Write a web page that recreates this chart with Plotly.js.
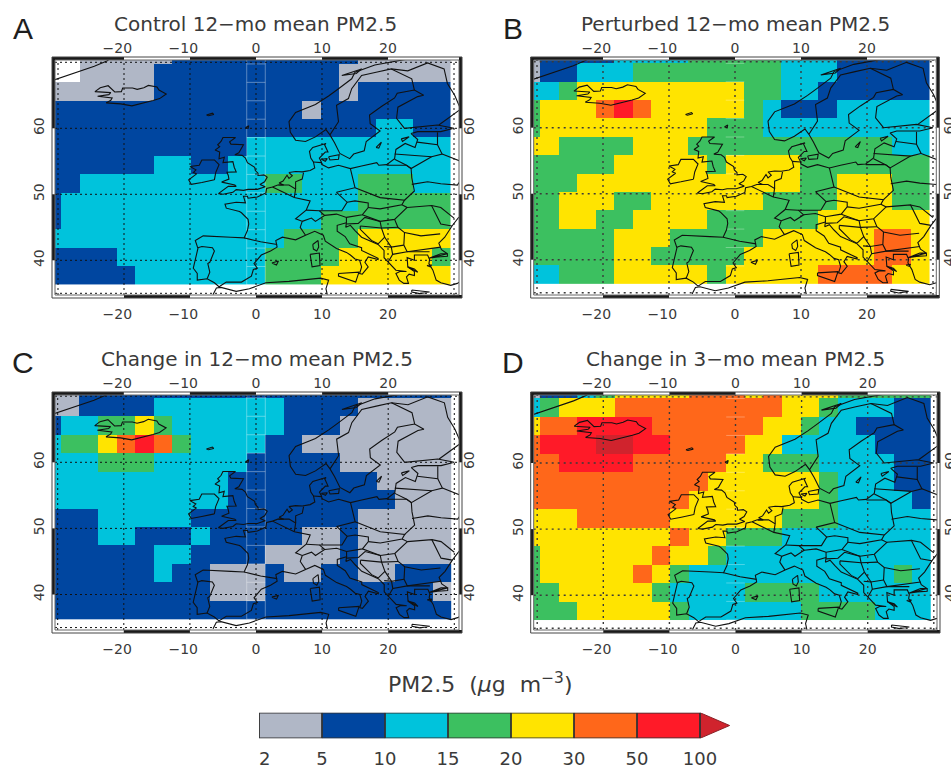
<!DOCTYPE html>
<html><head><meta charset="utf-8">
<script src="https://cdn.plot.ly/plotly-3.0.1.min.js"></script>
<style>html,body{margin:0;padding:0;background:#fff;overflow:hidden}</style>
</head><body><div id="chart" style="width:951px;height:768px"></div>
<script>
// PM2.5 colour band of each model grid cell, top row first
// 0: 2-5, 1: 5-10, 2: 10-15, 3: 15-20, 4: 20-30, 5: 30-50, 6: 50-100, 7: >100
const n = null;
const levelsA = [
[n,n,0,0,0,0,0,1,1,1,1,1,1,1,1,1,1,0,0,0,0,0],
[n,n,0,0,0,0,1,1,1,1,1,1,1,1,1,1,0,0,0,0,0,0],
[0,0,0,0,0,0,1,1,1,1,1,1,1,1,1,1,0,1,1,1,1,1],
[1,1,1,1,1,1,1,1,1,1,1,1,1,1,0,1,1,1,1,1,1,1],
[1,1,1,1,1,1,1,1,1,1,1,1,1,1,1,1,1,1,2,2,1,1],
[1,1,1,1,1,1,1,1,1,1,1,2,2,2,2,2,2,2,2,2,2,2],
[1,1,1,1,1,1,2,2,1,1,2,2,2,2,2,2,2,2,2,2,2,2],
[1,1,2,2,2,2,2,2,2,2,2,2,3,3,2,2,2,3,3,3,2,2],
[1,2,2,2,2,2,2,2,2,2,2,2,2,2,2,2,2,3,3,3,3,3],
[1,2,2,2,2,2,2,2,2,2,2,2,2,2,2,3,3,3,3,3,3,3],
[2,2,2,2,2,2,2,2,2,2,2,2,2,3,3,3,3,4,4,4,4,4],
[1,1,1,1,2,2,2,2,2,2,2,2,3,3,3,3,4,4,4,4,4,3],
[1,1,1,1,1,2,2,2,2,2,2,2,3,3,3,4,4,4,4,4,4,4]];
const levelsB = [
[0,1,1,1,1,2,2,2,2,3,3,3,3,3,2,2,2,1,1,1,1,1],
[0,1,1,2,2,2,3,3,3,3,3,3,3,3,2,2,2,1,1,1,1,1],
[2,2,3,4,4,4,4,4,4,4,4,4,3,3,2,2,1,1,1,1,1,1],
[3,4,4,4,5,6,5,4,4,4,4,4,3,2,1,1,1,2,2,2,2,2],
[3,4,4,4,4,4,4,4,4,4,3,3,3,2,2,2,2,2,2,2,2,2],
[4,4,3,3,3,3,4,4,4,3,3,3,3,3,3,3,3,3,3,3,2,2],
[3,3,3,3,3,4,4,4,4,4,3,4,4,4,4,3,3,3,3,3,3,3],
[3,3,3,4,4,4,4,4,4,4,4,4,4,4,4,3,3,4,4,4,3,3],
[3,3,4,4,4,3,3,4,4,4,4,4,4,3,3,3,3,4,4,4,3,3],
[3,3,4,4,3,3,4,4,4,4,3,3,3,3,3,3,4,4,4,4,4,4],
[3,3,3,3,3,4,4,4,3,3,3,3,3,4,4,4,4,4,4,5,5,4],
[3,3,3,3,3,4,4,3,3,3,3,3,4,4,4,4,4,4,4,5,5,4],
[2,2,3,3,3,4,4,4,4,4,3,4,4,4,4,4,5,5,5,5,4,4]];
const levelsC = [
[0,0,1,1,1,1,1,1,1,1,1,1,1,1,1,1,1,1,1,1,1,1],
[0,0,1,1,1,1,2,2,2,2,2,2,2,1,1,1,1,0,0,0,0,0],
[1,2,2,3,3,4,3,2,2,2,2,2,2,1,1,1,0,0,0,0,0,0],
[2,3,3,4,5,6,5,3,2,2,2,2,1,1,0,0,0,0,0,0,0,0],
[2,2,2,3,3,3,2,2,2,2,2,1,1,1,1,1,0,0,0,0,0,0],
[2,2,2,2,2,2,2,2,2,2,1,1,1,1,1,1,1,1,0,0,0,0],
[2,2,2,2,2,2,2,2,2,2,1,1,1,1,1,1,1,1,1,0,0,0],
[1,1,1,2,2,2,2,2,1,1,1,1,1,1,1,1,1,0,0,0,0,0],
[1,1,1,2,2,1,1,1,2,1,1,1,1,1,0,0,1,0,0,0,0,0],
[1,1,1,1,1,1,2,2,1,1,1,1,0,0,0,0,1,0,0,0,0,0],
[1,1,1,1,1,1,2,1,1,0,0,0,1,0,0,1,1,0,0,1,1,1],
[1,1,1,1,1,1,1,1,1,0,0,0,1,1,1,1,1,1,1,1,1,0],
[1,1,1,1,1,1,1,1,1,1,1,1,1,1,1,1,1,1,1,1,1,1]];
const levelsD = [
[0,1,1,2,3,4,4,4,4,5,5,5,4,5,4,4,4,3,3,3,3,3],
[2,3,4,4,4,5,5,5,5,5,5,5,5,5,4,4,3,2,2,2,1,1],
[4,5,5,6,6,6,6,5,5,5,5,5,5,4,4,3,2,2,1,1,1,1],
[5,6,6,6,7,7,6,6,5,5,5,5,4,4,2,2,2,2,2,1,1,1],
[5,5,6,6,6,6,5,5,5,5,5,4,4,3,3,3,2,2,2,2,1,1],
[5,5,5,5,5,5,5,5,5,5,4,4,4,4,4,4,3,2,2,2,1,1],
[5,5,5,5,5,5,5,5,5,4,4,4,4,4,4,4,3,2,2,2,2,1],
[4,4,4,5,5,5,5,5,4,4,4,4,4,4,3,3,3,2,2,2,2,2],
[4,4,4,4,4,4,4,4,5,4,4,3,3,3,2,2,2,2,2,2,2,2],
[3,4,4,4,4,4,4,5,4,4,3,2,2,2,2,2,2,2,2,2,2,2],
[3,4,4,4,4,4,5,4,3,2,2,2,2,2,2,2,2,2,2,2,3,2],
[3,3,4,4,4,4,4,3,2,2,2,2,3,3,3,3,2,2,2,2,2,2],
[3,3,3,4,4,4,4,4,3,2,2,2,2,2,2,3,3,3,3,2,2,2]];

const cellLons = [-30.94,-28.13,-25.31,-22.5,-19.69,-16.88,-14.06,-11.25,-8.44,-5.63,-2.81,0,2.81,5.63,8.44,11.25,14.06,16.88,19.69,22.5,25.31,28.13];
const cellLats = [71.16,68.37,65.58,62.79,60,57.21,54.42,51.63,48.84,46.04,43.25,40.46,37.67];
const gridLons = [-30,-20,-10,0,10,20,30];
const gridLats = [70,60,50,40,35];
const topTickText = ['\u221220\u00a0\u00a0\u00a0','\u221210\u00a0\u00a0\u00a0','0','10','20'];
const tickLons = [-20,-10,0,10,20];
const tickLats = [40,50,60];
const titles = ['Control\u00a012\u2212mo mean\u00a0PM2.5','Perturbed\u00a012\u2212mo mean\u00a0PM2.5','Change in\u00a012\u2212mo mean\u00a0PM2.5','Change in\u00a03\u2212mo mean\u00a0PM2.5'];
const panelLetters = ['A','B','C','D'];
const bandColours = ['#B0B7C6','#0046A0','#00C3DC','#3CC060','#FFE400','#FF671A','#FF1A28','#D0232D'];
const barLabels = ['\u00a0\u00a02','5','10','15','20','30','50','100'];

// Coastlines and borders, [lon, lat]
const greenland=[[-31,67.2],[-29,67.9],[-26.7,68.6],[-24.5,69.4],[-22.6,70.2],[-21.5,71]];
const iceland=[[-22.7,63.85],[-22,64.25],[-21.8,64.6],[-24,64.85],[-22.3,65.1],[-22,65.4],[-24.4,65.55],[-23.6,66.15],[-22.4,66.45],[-21.4,65.5],[-20.4,65.55],[-20.2,66.1],[-18.7,66.1],[-18,65.9],[-17,66.15],[-16.3,66.5],[-15,66.25],[-14.7,65.8],[-13.6,65.2],[-14.6,64.5],[-15.6,64.2],[-17,63.8],[-18.8,63.4],[-20.5,63.7],[-22.7,63.85]];
const faroe=[[-7.5,62],[-6.6,62.3],[-6.4,62.1],[-7.2,61.9],[-7.5,62]];
const shetland=[[-1.6,60.1],[-1.1,60.4],[-1.2,60],[-1.6,60.1]];
const britain=[[-5.7,50.1],[-5,50],[-3.5,50.3],[-3,50.7],[-1.9,50.6],[-1.2,50.75],[0.2,50.75],[1.4,51.15],[0.6,51.5],[1.3,51.9],[1.7,52.6],[1.2,52.95],[0.3,52.85],[0.3,53.2],[-0.1,53.6],[-0.2,54.1],[-1.3,54.8],[-1.6,55.5],[-2.1,55.9],[-3.2,56],[-2.6,56.3],[-2.1,57.1],[-1.9,57.5],[-3.8,57.6],[-4,57.95],[-3.1,58.6],[-5,58.6],[-5.3,58],[-5.8,57.5],[-5.5,57.2],[-6.2,56.7],[-5.5,56.4],[-5.6,55.4],[-4.8,55.6],[-5,54.8],[-3.5,54.95],[-3.3,54.1],[-3,53.4],[-4.4,53.35],[-4.2,52.85],[-4.1,52.3],[-5.2,51.85],[-3.2,51.4],[-3,51.2],[-4.2,51.2],[-5.7,50.1]];
const ireland=[[-6.3,52.2],[-6.1,53.3],[-5.6,54.5],[-6.3,55.2],[-8.2,55.2],[-8.6,54.4],[-10,54.2],[-9.1,53.7],[-9.5,53.3],[-9,53.1],[-10.2,52.2],[-9.8,51.5],[-8.2,51.8],[-6.3,52.2]];
const norwaySweden=[[25.8,71],[21,70.2],[18,69.6],[15,68.5],[14.5,67.5],[12.5,66],[11,64.9],[9,63.6],[6,62.4],[5,61],[5.2,59.4],[6,58.2],[7.5,58],[9,58.7],[10.6,59.8],[11.2,59],[11.9,57.8],[12.7,56.2],[14.2,55.4],[14.8,56.1],[16.4,56.6],[16.7,58],[18.8,59.6],[17.3,60.7],[17.2,62],[19,63.3],[21,64.6],[21.4,65.3],[24,65.8],[25.4,65],[24.5,64.8],[21.5,63.2],[21.3,61.5],[22.5,60],[25,60.2],[27.5,60.5],[30,60],[28,59.5],[24.5,59.5],[23.5,59.2],[24.5,58.3],[24.1,57.1],[22.6,57.7],[21.2,56.8],[21,55.4],[19.8,54.5],[18.6,54.4],[18.3,54.8],[16,54.3],[14.3,53.9],[12.5,54.4],[11,54],[10,54.5],[9.9,54.9],[9.6,55.5],[10.5,56.4],[10.9,56.4],[10.4,57.5],[10.6,57.7],[8.6,57.1],[8.1,56.5],[8.3,55.5],[8.7,54.9],[8.9,54],[8.2,53.6],[7,53.4],[6,53.45],[5,53.3],[5.5,52.8],[5,52.4],[4.7,52.9],[4.1,52],[3.5,51.7],[4.2,51.4],[3.3,51.4],[2.5,51.1],[1.6,50.9],[1.5,50.2],[0.2,49.6],[-1.2,49.4],[-1.3,49.7],[-1.9,49.7],[-1.6,48.7],[-3,48.8],[-4.7,48.5],[-4.5,47.9],[-2.5,47.4],[-2.2,47.2],[-1.2,46.2],[-1.1,45.5],[-1.3,44.5],[-1.8,43.4],[-3.8,43.5],[-8,43.7],[-9.2,43],[-8.8,41.8],[-9.5,38.8],[-8.9,38],[-8.9,37],[-7.4,37.2],[-6.3,36.6],[-5.6,36],[-4.5,36.7],[-2.2,36.7],[-0.7,37.6],[-0.4,38.6],[0.2,38.8],[-0.3,39.5],[0.8,40.8],[2.2,41.4],[3.2,42],[3,43],[4,43.5],[6,43.1],[7.5,43.8],[8.9,44.4],[10.2,43.8],[10.5,42.9],[12.2,41.8],[13.7,41.2],[14.3,40.8],[15,40.2],[15.7,40],[16,39],[15.7,38],[16.1,37.9],[17,39],[16.5,39.7],[17,40.5],[18.5,40.1],[18.5,40.3],[16,41.5],[16,41.9],[14.2,42.5],[13.5,43.6],[12.3,44.4],[12.3,45.3],[13.7,45.7],[13.6,45],[14.3,45.3],[15,44.5],[16,43.5],[18.5,42.4],[19.4,41.5],[19.4,40.4],[20.2,39.5],[21.2,38.5],[22.8,38.3],[21.8,38.3],[21.2,38],[21.7,37],[22.4,36.5],[23.1,36.5],[22.8,37.5],[23.2,37.9],[24,37.7],[24,38.3],[23,39],[22.9,40.4],[24,40],[24,40.8],[26,40.8],[26.3,40.1],[26.2,39.5],[26.8,38.5],[27.3,37],[28,36.6],[29.5,36.2],[30.5,36.5],[31,36.8]];
const marmaraBlackSea=[[26.2,40.3],[27.5,40.5],[29,40.6],[29,41],[28,41],[26.8,40.6],[26.2,40.3],[29,41],[28.1,41.6],[27.7,42.6],[28.6,43.5],[29.7,45.2],[30.7,46.5],[31,46.6]];
const northAfrica=[[-6.5,34.8],[-6,35.8],[-5.3,35.9],[-3,35.3],[-1,35.7],[1.5,36.6],[5,36.8],[9.8,37.3],[11,37],[10.6,35.7],[10.8,34.8]];
const sicily=[[12.5,38],[15.6,38.2],[15.1,36.7],[12.5,37.6],[12.5,38]];
const sardinia=[[8.2,40.9],[9.6,41.1],[9.7,39.2],[8.5,39],[8.2,40.9]];
const corsica=[[8.6,42.4],[9.4,43],[9.5,42],[9.2,41.4],[8.7,41.7],[8.6,42.4]];
const mallorca=[[2.4,39.6],[3.4,39.9],[3.1,39.3],[2.4,39.6]];
const crete=[[23.6,35.5],[25,35.4],[26.3,35.2],[24.8,34.95],[23.6,35.2],[23.6,35.5]];
const zealand=[[11,55.7],[12.6,56],[12.5,55.3],[11.2,55.2],[11,55.7]];
const funen=[[9.9,55.3],[10.8,55.4],[10.5,55],[9.9,55.3]];
const gotland=[[18.2,57.1],[19,57.9],[18.6,57],[18.2,57.1]];
const saaremaa=[[22,58.4],[23.2,58.7],[22.2,58],[22,58.4]];
const lofoten=[[13,68],[14.5,68.5],[16,69],[15.2,68.3],[13,68]];
const euboea=[[23,39],[24.5,38.2],[24,38.7],[23,39]];
const lesbos=[[25.9,39.2],[26.6,39.3],[26.4,39],[25.9,39.2]];
const borderSpainPortugal=[[-8.8,41.9],[-8.2,42.1],[-6.6,41.9],[-6.3,41.4],[-7,39.7],[-7.3,39.5],[-7,38.2],[-7.4,37.2]];
const borderPyrenees=[[-1.8,43.4],[0.7,42.8],[3.2,42.4]];
const borderFranceEast=[[2.5,51.1],[4.2,50.3],[5.8,49.5],[8.2,49],[7.6,47.6],[6,46.3],[7,45.9],[6.7,45],[7.5,43.8]];
const borderSwiss=[[7.6,47.6],[9.6,47.5],[10.4,46.8],[9,45.9],[8.4,46.4],[7,45.9]];
const borderBenelux=[[3.4,51.4],[5,51.4],[6,50.8],[5.8,49.5]];
const borderGermanyWest=[[6,50.8],[6,51.9],[7,52.3],[7.2,53.3]];
const borderDenmark=[[8.7,54.9],[9.9,54.8]];
const borderGermanyEast=[[14.3,53.9],[14.6,52.6],[15,51],[12.2,50.3],[13.8,48.8],[13,47.5],[9.6,47.5]];
const borderAustria=[[10.4,46.8],[12.2,47],[13.7,46.5],[16.1,46.9],[17,48],[17,48.7],[15,49],[13.8,48.8]];
const borderCzechPoland=[[15,51],[18.8,49.5],[22.5,49.1],[22.1,48.4],[18.8,47.8],[17,48]];
const borderHungary=[[16.1,46.9],[18.8,45.9],[21,46.2],[22.9,48],[22.1,48.4]];
const borderPolandEast=[[22.5,49.1],[24,50.5],[23.6,52.5],[23.5,53.9],[22.8,54.4],[19.8,54.4]];
const borderBaltics=[[21,56.1],[26.6,55.7],[28.2,56.1],[27.5,57.5],[24.4,57.9]];
const borderLithuania=[[21,55.3],[22.8,54.4],[23.5,53.9],[26.6,55.7]];
const borderEstoniaRussia=[[27.5,57.5],[27.5,59.4]];
const borderBelarus=[[23.6,51.5],[26,51.9],[28,51.6],[30.5,51.4],[31,52.1]];
const borderBelarusRussia=[[28.2,56.1],[31,55]];
const borderUkraine=[[22.9,48],[26.6,48.3],[28,45.5],[29.7,45.2]];
const borderMoldova=[[26.6,48.3],[28,48],[30,46.4]];
const borderRomania=[[21,46.2],[21.5,45],[22.5,44.2],[25,43.7],[27.9,44]];
const borderBulgaria=[[22.5,44.2],[22.4,42.3],[22.9,41.3],[26.3,41.7],[28,42]];
const borderGreece=[[20,39.7],[20.7,40.9],[22.9,41.3],[26.3,41.3]];
const borderAlbania=[[19.4,42.1],[20.5,42],[20.7,40.9]];
const borderBalkans=[[13.7,45.5],[15.5,45.6],[16.5,46.5],[18.8,45.9],[19,44.9],[19.5,43.5],[18.5,42.5]];
const borderBosnia=[[15.8,45.2],[19,44.9]];
const borderBosniaWest=[[15.8,45.2],[15.8,44.7],[17.5,43],[18.5,42.5]];
const borderSerbia=[[19,44.9],[21.5,45]];
const borderSerbiaSouth=[[19.5,43.5],[20.5,42],[22.4,42.3]];
const borderItalyNorth=[[13.7,46.5],[13.7,45.7]];
const borderScandinavia=[[11.2,59],[12.5,61],[12.2,63.5],[14,64.5],[14.5,66],[16,68],[18.2,68.5],[20.5,69],[23,68.7],[26,69.9],[28.5,69],[29,66.8],[30.1,65],[31,62.9]];
const borderFinlandSweden=[[24,65.8],[23.6,67.5],[20.5,69]];
const borderFinlandRussia=[[31,62.9],[27.7,60.5]];
const mapLines=[greenland,iceland,faroe,shetland,britain,ireland,norwaySweden,marmaraBlackSea,northAfrica,sicily,sardinia,corsica,mallorca,crete,zealand,funen,gotland,saaremaa,lofoten,euboea,lesbos,borderSpainPortugal,borderPyrenees,borderFranceEast,borderSwiss,borderBenelux,borderGermanyWest,borderDenmark,borderGermanyEast,borderAustria,borderCzechPoland,borderHungary,borderPolandEast,borderBaltics,borderLithuania,borderEstoniaRussia,borderBelarus,borderBelarusRussia,borderUkraine,borderMoldova,borderRomania,borderBulgaria,borderGreece,borderAlbania,borderBalkans,borderBosnia,borderBosniaWest,borderSerbia,borderSerbiaSouth,borderItalyNorth,borderScandinavia,borderFinlandSweden,borderFinlandRussia];

const W=951,H=768;
const FONT='"DejaVu Sans",sans-serif', TXT='#3a3a3a';
// frame box, position of lon 0 and lat 60 in the page, px per degree
const panels=[
 {f:[52,462,57,298],x0:256,y60:128.3,s:6.6,title:[255.5,23.5],letter:[22.7,29],dot:'2px,3px',dotW:1,dotC:'#111',rs:0},
 {f:[530.7,939.3,57,298],x0:735,y60:127.7,s:6.6,title:[735.5,23.5],letter:[513,29],dot:'2px,4px',dotW:1.4,dotC:'#3a3a3a',rs:3},
 {f:[52,462,392,633],x0:256,y60:462.3,s:6.61,title:[256.7,359],letter:[23.3,362],dot:'2px,3px',dotW:1,dotC:'#111',rs:0},
 {f:[530.7,940,392,633],x0:735.5,y60:463,s:6.61,title:[735.8,359],letter:[513,362],dot:'2px,4px',dotW:1.4,dotC:'#3a3a3a',rs:3}];
const allLevels=[levelsA,levelsB,levelsC,levelsD];
const px=v=>v/W, py=v=>1-v/H;

const mapX=[],mapY=[];
mapLines.forEach(l=>{l.forEach(p=>{mapX.push(p[0]);mapY.push(p[1]);});mapX.push(null);mapY.push(null);});

const colorscale=[];
bandColours.forEach((c,i)=>{colorscale.push([i/8,c]);colorscale.push([(i+1)/8,c]);});

const data=[],layout={width:W,height:H,margin:{l:0,r:0,t:0,b:0},paper_bgcolor:'#fff',plot_bgcolor:'rgba(0,0,0,0)',showlegend:false,shapes:[],annotations:[],font:{family:FONT,color:TXT}};
const ann=(x,y,text,size,fam,col)=>layout.annotations.push({xref:'paper',yref:'paper',x:px(x),y:py(y),text,showarrow:false,xanchor:'center',yanchor:'middle',font:{size,family:fam||FONT,color:col||TXT}});

panels.forEach((p,i)=>{
  const a=2*i+1,b=2*i+2;
  const [L,R,T,B]=p.f, iL=L+3,iR=R-3,iT=T+3,iB=B-3;
  const xr=[(iL-p.x0)/p.s,(iR-p.x0)/p.s], yr=[60+(p.y60-iB)/p.s,60+(p.y60-iT)/p.s];
  const base={range:xr,domain:[px(iL),px(iR)],showgrid:false,zeroline:false,showline:false,ticks:'',tickmode:'array',tickvals:tickLons,ticktext:topTickText,tickfont:{size:14,family:FONT,color:TXT},fixedrange:true};
  const ybase={range:yr,domain:[py(iB),py(iT)],showgrid:false,zeroline:false,showline:false,ticks:'',tickmode:'array',tickvals:tickLats,ticktext:tickLats.map(String),tickangle:-90,tickfont:{size:14,family:FONT,color:TXT},fixedrange:true};
  layout['xaxis'+a]=Object.assign({},base,{side:'bottom',anchor:'y'+a,ticklabelstandoff:9});
  layout['yaxis'+a]=Object.assign({},ybase,{side:'left',anchor:'x'+a,ticklabelstandoff:7});
  layout['xaxis'+b]=Object.assign({},base,{side:'top',anchor:'y'+b,overlaying:'x'+a,ticklabelstandoff:3});
  layout['yaxis'+b]=Object.assign({},ybase,{side:'right',anchor:'x'+b,overlaying:'y'+a,ticklabelstandoff:p.rs});
  data.push({type:'heatmap',x:cellLons,y:cellLats,z:allLevels[i],xaxis:'x'+a,yaxis:'y'+a,zmin:0,zmax:8,colorscale,showscale:false,hoverinfo:'skip'});
  // pale cell outlines of the column at lon 0
  const pX=[],pY=[];
  [-1.406,1.406].forEach(v=>{pX.push(v,v,null);pY.push(36.27,70.4,null);});
  for(let k=0;k<13;k++){const e=36.27+2.79*k;pX.push(-1.406,1.406,null);pY.push(e,e,null);}
  if(i==0||i==2) data.push({type:'scatter',mode:'lines',x:pX,y:pY,xaxis:'x'+b,yaxis:'y'+b,line:{color:'rgba(255,255,255,0.35)',width:1},hoverinfo:'skip'});
  else data.push({type:'scatter',mode:'lines',x:pX.slice(6),y:pY.slice(6),xaxis:'x'+b,yaxis:'y'+b,line:{color:'rgba(255,255,255,0.3)',width:1},hoverinfo:'skip'});
  // dotted graticule
  const gX=[],gY=[];
  gridLons.forEach(v=>{gX.push(v,v,null);gY.push(yr[0],yr[1],null);});
  gridLats.forEach(v=>{gX.push(xr[0],xr[1],null);gY.push(v,v,null);});
  data.push({type:'scatter',mode:'lines',x:gX,y:gY,xaxis:'x'+b,yaxis:'y'+b,line:{color:p.dotC,width:p.dotW,dash:p.dot},hoverinfo:'skip'});
  data.push({type:'scatter',mode:'lines',x:mapX,y:mapY,xaxis:'x'+b,yaxis:'y'+b,line:{color:'#111',width:1.1},connectgaps:false,hoverinfo:'skip'});
  // map box: double outline with alternating black bars
  const rect=(x0,x1,y0,y1,extra)=>layout.shapes.push(Object.assign({type:'rect',xref:'paper',yref:'paper',x0:px(x0),x1:px(x1),y0:py(y1),y1:py(y0),layer:'above',line:{width:0},fillcolor:'rgba(0,0,0,0)'},extra||{}));
  const black={fillcolor:'#1a1a1a'};
  const lx=v=>p.x0+v*p.s, ly=v=>p.y60-(v-60)*p.s;
  [[L,lx(-20)],[lx(-10),lx(0)],[lx(10),lx(20)]].forEach(s=>rect(s[0],s[1],T,T+3,black));
  [[lx(-20),lx(-10)],[lx(0),lx(10)],[lx(20),R]].forEach(s=>rect(s[0],s[1],B-3,B,black));
  [[T,ly(60)],[ly(50),ly(40)]].forEach(s=>{rect(L,L+3,s[0],s[1],black);rect(R-3,R,s[0],s[1],black);});
  rect(L,R,T,B,{line:{width:1,color:'#444'}});
  rect(iL,iR,iT,iB,{line:{width:1,color:'#666'}});
  ann(p.title[0],p.title[1],titles[i],20);
  ann(p.letter[0],p.letter[1],panelLetters[i],30,'"Liberation Sans",sans-serif','#1e1e1e');
});

// colour key
const barBands=[0,1,2,3,4,5,6];
const barL=259,barCell=63,barR=barL+barCell*7.6,barT=712.7,barB=738.3;
layout.xaxis9={domain:[px(barL),px(barR)],range:[0,7.6],showgrid:false,zeroline:false,showline:false,ticks:'',tickmode:'array',tickvals:[0,1,2,3,4,5,6,7],ticktext:barLabels,tickfont:{size:18,family:FONT,color:TXT},anchor:'y9',ticklabelstandoff:8,fixedrange:true};
layout.yaxis9={domain:[py(barB),py(barT)],range:[0,1],showgrid:false,zeroline:false,showline:false,showticklabels:false,ticks:'',anchor:'x9',fixedrange:true};
data.push({type:'heatmap',x:barBands.map(v=>v+0.5),y:[0.5],z:[barBands],xaxis:'x9',yaxis:'y9',zmin:0,zmax:8,colorscale,showscale:false,hoverinfo:'skip'});
data.push({type:'scatter',mode:'lines',x:[7,7.47,7,7],y:[0,0.5,1,0],xaxis:'x9',yaxis:'y9',fill:'toself',fillcolor:bandColours[7],line:{color:'#8a2026',width:1},hoverinfo:'skip',cliponaxis:false});
const sepX=[],sepY=[];
[1,2,3,4,5,6].forEach(v=>{sepX.push(v,v,null);sepY.push(0,1,null);});
sepX.push(0,7,7,0,0);sepY.push(0,0,1,1,0);
data.push({type:'scatter',mode:'lines',x:sepX,y:sepY,xaxis:'x9',yaxis:'y9',line:{color:'#333',width:1.8},hoverinfo:'skip',cliponaxis:false});
ann(480,683,'PM2.5\u00a0\u00a0(<i>\u03bc</i>g\u00a0\u00a0m<sup>\u22123</sup>)',22);

Plotly.newPlot('chart',data,layout,{staticPlot:true,displayModeBar:false});
</script></body></html>
